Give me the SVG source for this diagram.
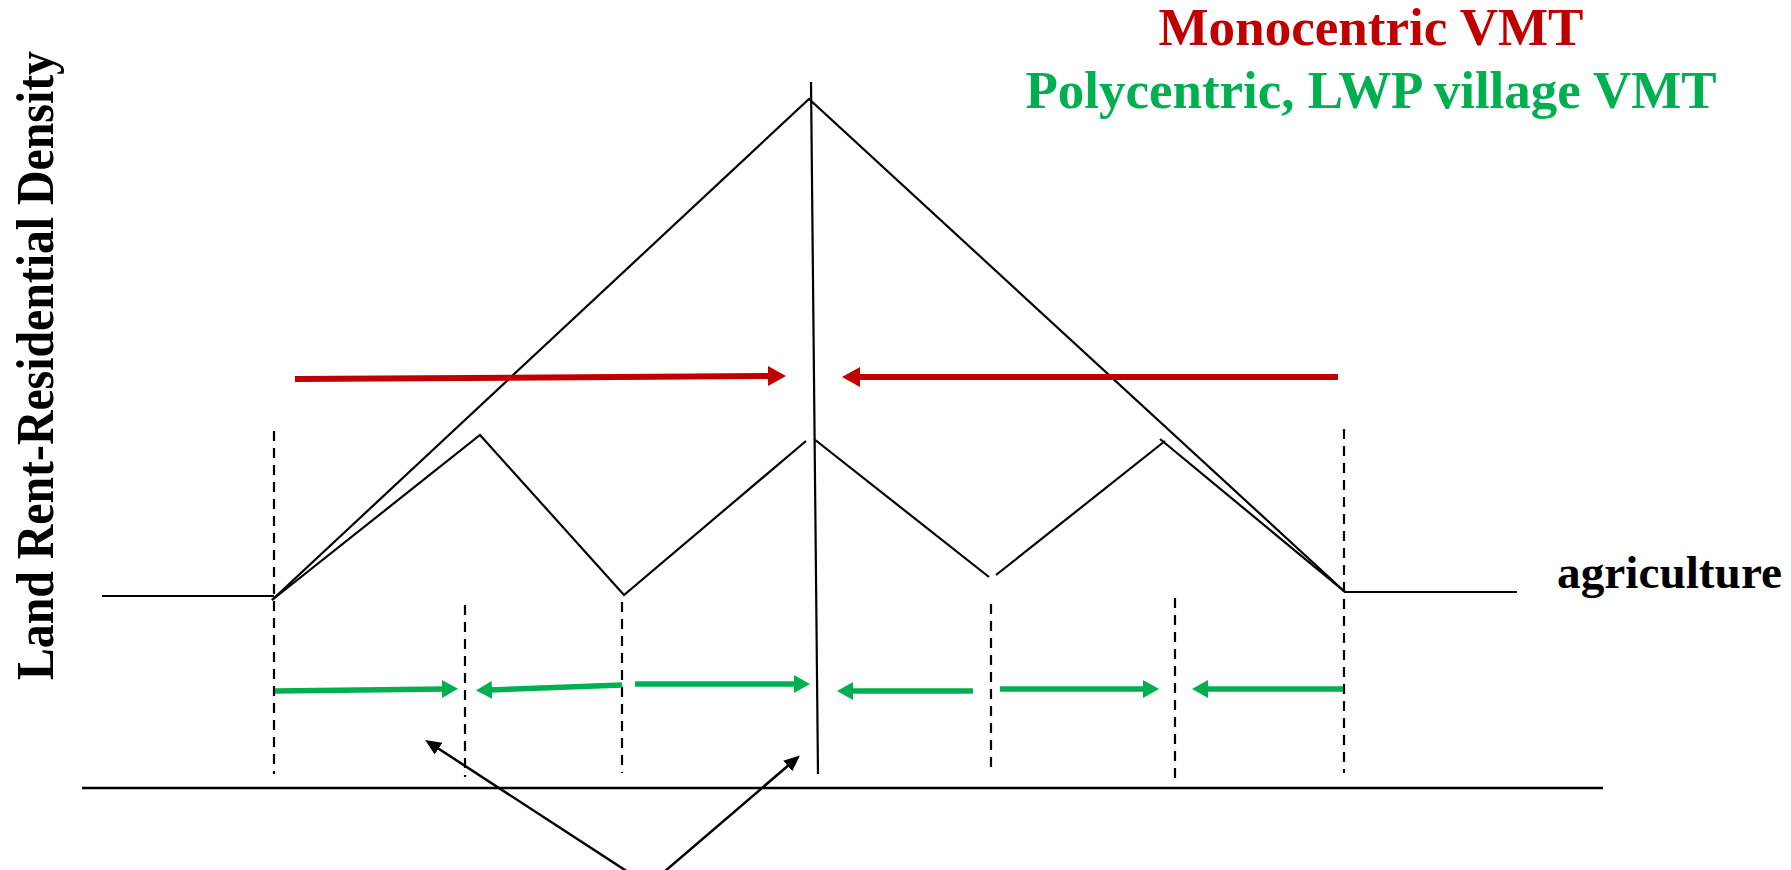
<svg xmlns="http://www.w3.org/2000/svg" width="1791" height="870" viewBox="0 0 1791 870">
<style>
.ln{stroke:#000;stroke-width:2.2;fill:none}
.ax{stroke:#000;stroke-width:2.5;fill:none}
.dash{stroke:#000;stroke-width:2.2;stroke-dasharray:10,7;fill:none}
.red{stroke:#C00000;stroke-width:6;fill:none}
.grn{stroke:#00B050;stroke-width:5.5;fill:none}
.ptr{stroke:#000;stroke-width:2.5;fill:none}
.t{font-family:"Liberation Serif","Times New Roman",serif;font-weight:bold}
</style>
<defs>
<marker id="ar" markerUnits="userSpaceOnUse" markerWidth="19" markerHeight="20" refX="3" refY="10" orient="auto"><path d="M0,0 L18,10 L0,20 z" fill="#C00000"/></marker>
<marker id="ag" markerUnits="userSpaceOnUse" markerWidth="17" markerHeight="18" refX="3" refY="9" orient="auto"><path d="M0,0 L16,9 L0,18 z" fill="#00B050"/></marker>
<marker id="ak" markerUnits="userSpaceOnUse" markerWidth="16" markerHeight="14" refX="3" refY="7" orient="auto"><path d="M0,0 L16,7 L0,14 z" fill="#000"/></marker>
</defs>
<rect width="1791" height="870" fill="#fff"/>
<g id="titles">
<text class="t" x="1371" y="45" font-size="53" fill="#C00000" text-anchor="middle" textLength="425" lengthAdjust="spacingAndGlyphs">Monocentric VMT</text>
<text class="t" x="1371" y="108" font-size="53" fill="#00B050" text-anchor="middle" textLength="691" lengthAdjust="spacingAndGlyphs">Polycentric, LWP village VMT</text>
</g>
<g id="ylabel">
<text class="t" transform="translate(53,680) rotate(-90)" font-size="53" fill="#000" textLength="629" lengthAdjust="spacingAndGlyphs">Land Rent-Residential Density</text>
</g>
<g id="agriculture">
<text class="t" x="1557" y="588" font-size="47" fill="#000" textLength="225" lengthAdjust="spacingAndGlyphs">agriculture</text>
</g>
<g id="axis">
<line class="ax" x1="82" y1="788" x2="1603" y2="788"/>
</g>
<g id="monocentric-profile">
<polyline class="ln" points="272,600 809,99 1345,592"/>
<line class="ln" x1="811" y1="82" x2="818" y2="774"/>
</g>
<g id="polycentric-profile">
<polyline class="ln" points="102,596 274,596"/>
<polyline class="ln" points="272,600 480,435 624,595 806,441"/>
<polyline class="ln" points="814,439 989,577"/>
<polyline class="ln" points="996,575 1165,441"/>
<polyline class="ln" points="1160,439 1345,592 1517,592"/>
</g>
<g id="boundaries">
<line class="dash" x1="274" y1="431" x2="274" y2="774"/>
<line class="dash" x1="465" y1="605" x2="465" y2="777"/>
<line class="dash" x1="622" y1="602" x2="622" y2="773"/>
<line class="dash" x1="991" y1="604" x2="991" y2="773"/>
<line class="dash" x1="1175" y1="598" x2="1175" y2="784"/>
<line class="dash" x1="1344" y1="429" x2="1344" y2="773"/>
</g>
<g id="connectors">
<line class="red" x1="295" y1="379" x2="771" y2="376" marker-end="url(#ar)"/>
<line class="red" x1="1338" y1="377" x2="857" y2="377" marker-end="url(#ar)"/>
<line class="grn" x1="275" y1="691" x2="445" y2="689" marker-end="url(#ag)"/>
<line class="grn" x1="622" y1="685" x2="489" y2="690" marker-end="url(#ag)"/>
<line class="grn" x1="635" y1="684" x2="797" y2="684" marker-end="url(#ag)"/>
<line class="grn" x1="973" y1="691" x2="850" y2="691" marker-end="url(#ag)"/>
<line class="grn" x1="1000" y1="689" x2="1146" y2="689" marker-end="url(#ag)"/>
<line class="grn" x1="1343" y1="689" x2="1205" y2="689" marker-end="url(#ag)"/>
<line class="ptr" x1="628" y1="872" x2="436" y2="747" marker-end="url(#ak)"/>
<line class="ptr" x1="664" y1="872" x2="790" y2="764" marker-end="url(#ak)"/>
</g>
</svg>
